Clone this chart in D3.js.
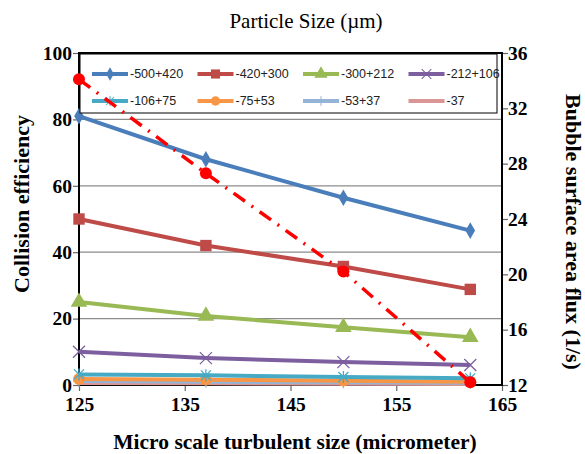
<!DOCTYPE html>
<html>
<head>
<meta charset="utf-8">
<script src="https://cdn.jsdelivr.net/npm/d3@7"></script>
<style>
body { margin: 0; background: #fff; }
svg text { font-family: "Times New Roman", "Liberation Serif", "DejaVu Serif", serif; }
</style>
</head>
<body>
<div id="chart"></div>
<script>
// Data
var turbSize = [125, 137, 150, 162];
var sizeClasses = ["-500+420", "-420+300", "-300+212", "-212+106", "-106+75", "-75+53", "-53+37", "-37"];
var eff500 = [81, 68, 56.4, 46.5];
var eff420 = [50, 42, 35.7, 28.8];
var eff300 = [25, 20.8, 17.4, 14.4];
var eff212 = [10, 8.1, 6.9, 6];
var eff106 = [3.2, 2.9, 2.4, 2.0];
var eff75 = [1.8, 1.6, 1.3, 1.0];
var eff53 = [1.2, 1.0, 0.8, 0.7];
var eff37 = [0.6, 0.5, 0.4, 0.3];
var fluxSb = [34.1, 27.3, 20.2, 12.2];
var xTicks = [125, 135, 145, 155, 165];
var yTicks = [0, 20, 40, 60, 80, 100];
var y2Ticks = [12, 16, 20, 24, 28, 32, 36];

var colors = ["#4a7ebb", "#be4b48", "#98b954", "#7d5fa0", "#46aac5", "#f79646", "#94b3d6", "#d99694"];
var markers = ["diamond", "square", "triangle", "cross", "star", "circle", "plus", "none"];
var allEff = [eff500, eff420, eff300, eff212, eff106, eff75, eff53, eff37];

var serif = "'Times New Roman', 'Liberation Serif', 'DejaVu Serif', serif";

var W = 585, H = 454;
var margin = {top: 53, right: 83, bottom: 69, left: 79};
var width = W - margin.left - margin.right;
var height = H - margin.top - margin.bottom;

var svg = d3.select("#chart").append("svg")
	.attr("width", W)
	.attr("height", H);

var g = svg.append("g")
	.attr("transform", "translate(" + margin.left + "," + margin.top + ")");

var x = d3.scaleLinear().domain([125, 165]).range([0, width]);
var y = d3.scaleLinear().domain([0, 100]).range([height, 0]);
var y2 = d3.scaleLinear().domain([12, 36]).range([height, 0]);

// gridlines
g.append("g")
	.selectAll("line")
	.data(yTicks.slice(1, -1))
	.enter().append("line")
	.attr("x1", 0).attr("x2", width)
	.attr("y1", d => y(d)).attr("y2", d => y(d))
	.attr("stroke", "#8c8c8c")
	.attr("stroke-width", 1.2);

// axes
var xAxis = g.append("g")
	.attr("transform", "translate(0," + height + ")")
	.call(d3.axisBottom(x).tickValues(xTicks).tickSize(6).tickSizeOuter(0));
var yAxis = g.append("g")
	.call(d3.axisLeft(y).tickValues(yTicks).tickSize(6).tickSizeOuter(0));
var y2Axis = g.append("g")
	.attr("transform", "translate(" + width + ",0)")
	.call(d3.axisRight(y2).tickValues(y2Ticks).tickSize(6).tickSizeOuter(0));

[xAxis, yAxis, y2Axis].forEach(function(a) {
	a.attr("font-family", serif);
	a.select(".domain").remove();
	a.selectAll(".tick line").attr("stroke", "#666").attr("stroke-width", 1.2);
	a.selectAll("text")
		.attr("font-family", serif)
		.style("font-family", serif)
		.style("font-weight", "bold")
		.style("font-size", "19.5px")
		.attr("fill", "#000");
});
xAxis.selectAll("text").attr("dy", "0.85em");
yAxis.selectAll("text").attr("dx", "2px");
y2Axis.selectAll("text").attr("dx", "-3px");

// plot frame
g.append("rect")
	.attr("width", width).attr("height", height)
	.attr("fill", "none")
	.attr("stroke", "#000")
	.attr("stroke-width", 2);

// marker shapes
function drawMarker(sel, type, color) {
	var sym = {
		diamond: d3.symbol().type(d3.symbolDiamond).size(80),
		square: d3.symbol().type(d3.symbolSquare).size(130),
		triangle: d3.symbol().type(d3.symbolTriangle).size(120),
		circle: d3.symbol().type(d3.symbolCircle).size(110)
	};
	if (sym[type]) {
		sel.append("path").attr("d", sym[type]).attr("fill", color);
	} else if (type == "cross") {
		sel.append("path").attr("d", "M-6,-6L6,6M-6,6L6,-6")
			.attr("stroke", color).attr("stroke-width", 1.3).attr("fill", "none");
	} else if (type == "star") {
		sel.append("path").attr("d", "M-5,-5L5,5M-5,5L5,-5M0,-6L0,6")
			.attr("stroke", color).attr("stroke-width", 1.3).attr("fill", "none");
	} else if (type == "plus") {
		sel.append("path").attr("d", "M-6,0L6,0M0,-6L0,6")
			.attr("stroke", color).attr("stroke-width", 1.3).attr("fill", "none");
	}
}

var line = d3.line()
	.x((d, i) => x(turbSize[i]))
	.y(d => y(d));

// draw series from bottom to top
for (var k = allEff.length - 1; k >= 0; k--) {
	var s = g.append("g");
	s.append("path")
		.datum(allEff[k])
		.attr("d", line)
		.attr("fill", "none")
		.attr("stroke", colors[k])
		.attr("stroke-width", 4);
	s.selectAll("g.m")
		.data(allEff[k])
		.enter().append("g")
		.attr("class", "m")
		.attr("transform", (d, i) => "translate(" + x(turbSize[i]) + "," + y(d) + ")")
		.each(function() { drawMarker(d3.select(this), markers[k], colors[k]); });
}

// legend
var legend = g.append("g");
legend.append("rect")
	.attr("x", 1).attr("y", 1)
	.attr("width", width - 6).attr("height", 59)
	.attr("fill", "#fff")
	.attr("stroke", "#000")
	.attr("stroke-width", 1);
var legendItem = legend.selectAll("g.item")
	.data(sizeClasses)
	.enter().append("g")
	.attr("class", "item")
	.attr("transform", (d, i) => "translate(" + (13 + (i % 4) * 105.5) + "," + (21 + Math.floor(i / 4) * 27) + ")");
legendItem.append("line")
	.attr("x1", 0).attr("x2", 36)
	.attr("stroke", (d, i) => colors[i])
	.attr("stroke-width", 4);
legendItem.append("g")
	.attr("transform", "translate(18,0) scale(0.8)")
	.each(function(d, i) { drawMarker(d3.select(this), markers[i], colors[i]); });
legendItem.append("text")
	.attr("x", 38).attr("dy", "0.35em")
	.style("font-family", "'Liberation Sans', Arial, sans-serif")
	.style("font-size", "12.5px")
	.attr("fill", "#222")
	.text(d => d);

// bubble surface area flux, dash-dot red on right axis
var line2 = d3.line()
	.x((d, i) => x(turbSize[i]))
	.y(d => y2(d));
g.append("path")
	.datum(fluxSb)
	.attr("d", line2)
	.attr("fill", "none")
	.attr("stroke", "#ff0000")
	.attr("stroke-width", 3.5)
	.attr("stroke-dasharray", "14,8,2,8");
g.selectAll("circle.sb")
	.data(fluxSb)
	.enter().append("circle")
	.attr("class", "sb")
	.attr("cx", (d, i) => x(turbSize[i]))
	.attr("cy", d => y2(d))
	.attr("r", 6)
	.attr("fill", "#ff0000");

// titles
svg.append("text")
	.attr("x", 306).attr("y", 28)
	.attr("text-anchor", "middle")
	.style("font-family", serif)
	.style("font-size", "21px")
	.text("Particle Size (\u00b5m)");
svg.append("text")
	.attr("x", 295).attr("y", 449)
	.attr("text-anchor", "middle")
	.style("font-family", serif)
	.style("font-size", "21.5px")
	.style("font-weight", "bold")
	.text("Micro scale turbulent size (micrometer)");
svg.append("text")
	.attr("transform", "translate(29,204) rotate(-90)")
	.attr("text-anchor", "middle")
	.style("font-family", serif)
	.style("font-size", "22px")
	.style("font-weight", "bold")
	.text("Collision efficiency");
svg.append("text")
	.attr("transform", "translate(566,232) rotate(90)")
	.attr("text-anchor", "middle")
	.style("font-family", serif)
	.style("font-size", "22px")
	.style("font-weight", "bold")
	.text("Bubble surface area flux (1/s)");
</script>
</body>
</html>
